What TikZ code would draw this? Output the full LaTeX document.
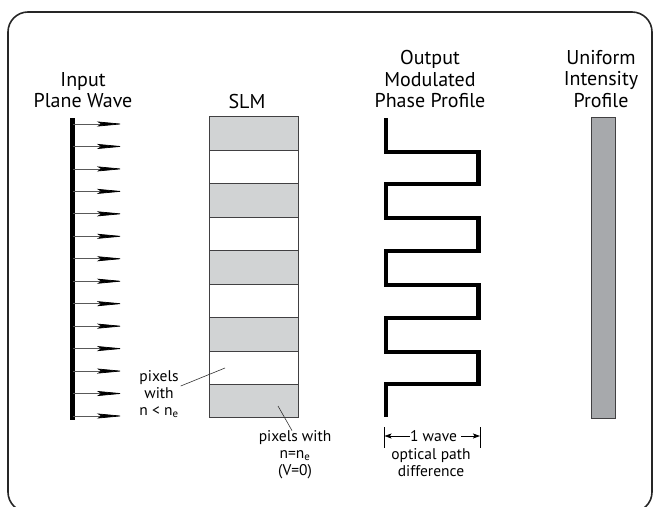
\documentclass[tikz,border=0pt]{standalone}
\usepackage{fontspec}
\setmainfont{PT Sans}
\usetikzlibrary{arrows.meta}
\definecolor{pixelgray}{HTML}{D1D3D4}
\definecolor{bargray}{HTML}{A7A9AC}
\definecolor{inkgray}{HTML}{414042}
\begin{document}
\begin{tikzpicture}[
        x=1pt, y=-1pt,
        frame/.style={draw=black!85, line width=1.6pt, rounded corners=20pt},
        heading/.style={align=center, inner sep=0pt, font=\fontsize{20}{21.5}\selectfont},
        note/.style={align=center, inner sep=0pt, font=\fontsize{15.5}{17}\selectfont},
        ray/.style={draw=black!65, line width=0.7pt, -{Stealth[length=27pt, width=5pt, inset=4pt, black]}},
        pixelbox/.style={draw=inkgray, line width=1pt, minimum width=89pt, minimum height=33.44pt, inner sep=0pt},
        phase/.style={line width=4.6pt, line join=miter},
        leader/.style={draw=black!80, line width=0.6pt},
        dimline/.style={line width=0.8pt, -{Stealth[length=7pt, width=5pt, inset=1.5pt]}}
    ]
        \useasboundingbox (0,0) rectangle (655,506);
        \draw[frame] (8,12) rectangle (652,512);

        % Headings
        \node[heading] (hin) at (83,90) {Input\\Plane Wave};
        \node[heading] (hslm) at (247,101.5) {SLM};
        \node[heading] (hout) at (430,79) {Output\\Modulated\\Phase Profile};
        \node[heading] (hint) at (601,79) {Uniform\\Intensity\\Profile};

        % Input plane wave
        \draw[line width=4.5pt] (72.5,118) -- (72.5,420);
        \foreach \i in {0,...,13} {
            \coordinate (w\i) at (72.5,124+22.46*\i);
            \coordinate (t\i) at (124,124+22.46*\i);
            \draw[ray] (w\i) -- (t\i);
        }

        % SLM pixels
        \foreach \k in {0,...,8} {
            \ifodd\k \def\pxfill{white}\else \def\pxfill{pixelgray}\fi
            \node[pixelbox, fill=\pxfill] (px\k) at (253.5,133.7+33.44*\k) {};
        }

        % Output phase profile
        \draw[phase] (386,118) -- (386,152) -- (478.5,152) -- (478.5,184) -- (386,184)
            -- (386,218) -- (478.5,218) -- (478.5,251) -- (386,251) -- (386,285)
            -- (478.5,285) -- (478.5,318) -- (386,318) -- (386,352) -- (478.5,352)
            -- (478.5,384) -- (386,384) -- (386,417);

        % Uniform intensity
        \node[draw=inkgray, line width=1pt, fill=bargray, minimum width=24pt, minimum height=301pt, inner sep=0pt] (bar) at (603,267.5) {};

        % Pixel labels
        \node[note] (pxlow) at (159,394) {pixels\\with\\n < n\textsubscript{e}};
        \coordinate (plow) at (225,368);
        \draw[leader] (pxlow.east) ++(2,-8) -- (plow);
        \node[note] (pxhigh) at (295,455) {pixels with\\n=n\textsubscript{e}\\(V=0)};
        \coordinate (phigh) at (278,406);
        \draw[leader] (phigh) -- (pxhigh.97);

        % One wave
        \coordinate (da) at (384.5,427);
        \coordinate (db) at (384.5,448);
        \coordinate (dc) at (480,427);
        \coordinate (dd) at (480,448);
        \draw[line width=0.8pt] (da) -- (db);
        \draw[line width=0.8pt] (dc) -- (dd);
        \node[note] (wave) at (433.5,436) {1 wave};
        \draw[dimline] (wave.west) -- (da |- wave);
        \draw[dimline] (wave.east) ++(4,0) -- (dc |- wave);
        \node[note] (opd) at (431,463) {optical path\\difference};
    \end{tikzpicture}
\end{document}
